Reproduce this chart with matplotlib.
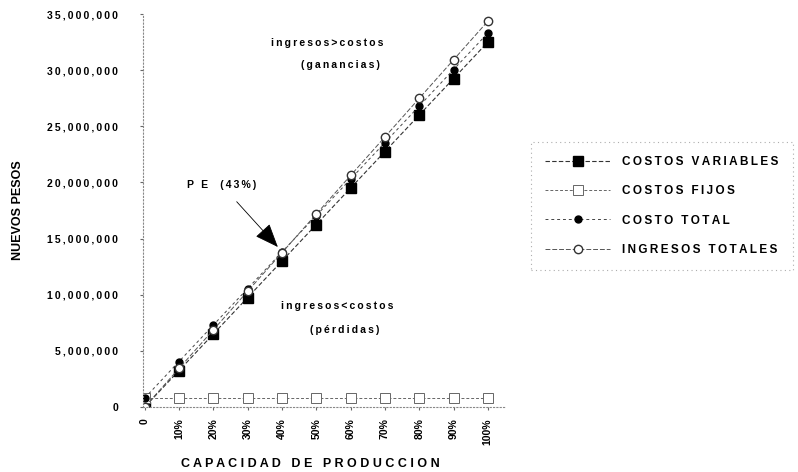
import matplotlib
matplotlib.use("Agg")
import matplotlib.pyplot as plt

# Break-even chart data (values in pesos)
capacidad = ["0", "10%", "20%", "30%", "40%", "50%", "60%", "70%", "80%", "90%", "100%"]
costos_variables = [0, 3250000, 6500000, 9750000, 13000000, 16250000,
                    19500000, 22750000, 26000000, 29250000, 32500000]
costos_fijos = [800000, 800000, 800000, 800000, 800000, 800000,
                800000, 800000, 800000, 800000, 800000]
costo_total = [800000, 4050000, 7300000, 10550000, 13800000, 17050000,
               20300000, 23550000, 26800000, 30050000, 33300000]
ingresos_totales = [0, 3440000, 6870000, 10310000, 13740000, 17180000,
                    20620000, 24050000, 27490000, 30920000, 34360000]
y_ticks = [0, 5000000, 10000000, 15000000, 20000000, 25000000, 30000000, 35000000]

FONT = ["Liberation Sans", "DejaVu Sans"]
TS = "\u2009"


def spaced(s, sep=TS):
    return sep.join(s)


plt.rcParams["font.family"] = FONT
plt.rcParams["font.weight"] = "bold"

fig = plt.figure(figsize=(7.98, 4.72), dpi=100)
ax = fig.add_axes([143 / 798, 1 - 407 / 472, (505 - 143) / 798, (407 - 14) / 472])

x = list(range(len(capacidad)))
ax.plot(x, costos_variables, color="#333333", lw=0.8, ls=(0, (4, 2)),
        marker="s", ms=7, mfc="black", mec="black", label=spaced("COSTOS VARIABLES"))
ax.plot(x, costos_fijos, color="#666666", lw=0.7, ls=(0, (3, 2)),
        marker="s", ms=6.5, mfc="white", mec="#666666", mew=0.7, label=spaced("COSTOS FIJOS"))
ax.plot(x, costo_total, color="#444444", lw=0.7, ls=(0, (3, 3)),
        marker="o", ms=5, mfc="black", mec="black", label=spaced("COSTO TOTAL"))
ax.plot(x, ingresos_totales, color="#555555", lw=0.7, ls=(0, (5, 2)),
        marker="o", ms=6, mfc="white", mec="#333333", mew=1.0, label=spaced("INGRESOS TOTALES"))

ax.set_xlim(-0.05, 10.5)
ax.set_ylim(0, 35000000)
ax.set_yticks(y_ticks)
ax.set_yticklabels([spaced(f"{v:,}") for v in y_ticks], fontsize=7.5, fontweight="bold")
ax.set_xticks(x)
ax.set_xticklabels(capacidad, rotation=90, fontsize=7.5, fontweight="bold")

for s in ["top", "right"]:
    ax.spines[s].set_visible(False)
for s in ["left", "bottom"]:
    ax.spines[s].set_color("#888888")
    ax.spines[s].set_linestyle((0, (1, 2)))
    ax.spines[s].set_linewidth(0.8)
ax.tick_params(axis="y", length=2, color="#666666", pad=16)
ax.tick_params(axis="x", length=2, color="#666666", pad=6)

ax.set_ylabel("NUEVOS PESOS", fontsize=9, fontweight="bold")
ax.yaxis.set_label_coords(-0.33, 0.5)
ax.set_xlabel(spaced("CAPACIDAD DE PRODUCCION", " "), fontsize=9, fontweight="bold")
ax.xaxis.set_label_coords((310 - 143) / 362, -0.13)

txt = dict(fontsize=7.5, fontweight="bold", ha="center", va="center")
ax.text(5.33, 32400000, spaced("ingresos>costos"), **txt)
ax.text(5.71, 30450000, spaced("(ganancias)"), **txt)
ax.text(5.6, 9000000, spaced("ingresos<costos"), **txt)
ax.text(5.83, 6860000, spaced("(pérdidas)"), **txt)
ax.annotate(spaced("P E  (43%)"), xy=(3.88, 14250000), xytext=(2.23, 19800000),
            fontsize=7.5, fontweight="bold", ha="center", va="center",
            arrowprops=dict(arrowstyle="-|>,head_length=2.0,head_width=0.8",
                            color="black", lw=0.6, shrinkA=9, shrinkB=0))

handles, labels = ax.get_legend_handles_labels()
leg = fig.legend(handles, labels, loc="center", bbox_to_anchor=(662 / 798, 1 - 206 / 472),
                 prop={"weight": "bold", "size": 8.5}, frameon=True, fancybox=False,
                 handlelength=5.5, labelspacing=1.45, borderpad=1.2, handletextpad=1.0)
fr = leg.get_frame()
fr.set_edgecolor("#999999")
fr.set_linestyle((0, (1, 3)))
fr.set_linewidth(0.8)

fig.savefig("out.png", dpi=100)
